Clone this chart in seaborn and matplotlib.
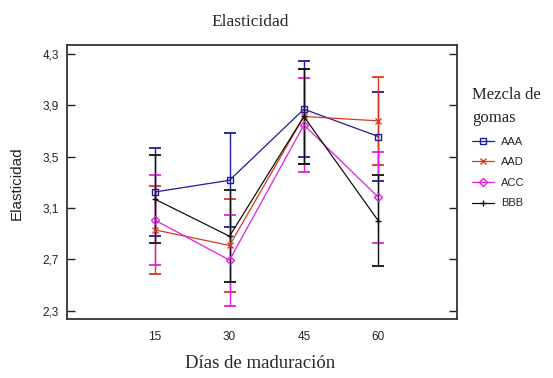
import matplotlib
matplotlib.use("Agg")
import matplotlib.pyplot as plt
import seaborn as sns
import pandas as pd

dias = [15, 30, 45, 60]
aaa = [3.225, 3.316, 3.870, 3.657]
aad = [2.929, 2.808, 3.813, 3.779]
acc = [3.005, 2.694, 3.747, 3.183]
bbb = [3.168, 2.880, 3.813, 3.000]
err_aaa = [0.345, 0.365, 0.373, 0.348]
err_aad = [0.342, 0.361, 0.373, 0.344]
err_acc = [0.350, 0.354, 0.369, 0.353]
err_bbb = [0.342, 0.357, 0.371, 0.354]
yticks = [2.3, 2.7, 3.1, 3.5, 3.9, 4.3]
ytick_labels = ["2,3", "2,7", "3,1", "3,5", "3,9", "4,3"]

series = {"AAA": (aaa, err_aaa), "AAD": (aad, err_aad),
          "ACC": (acc, err_acc), "BBB": (bbb, err_bbb)}
colors = {"AAA": "#1c1c9c", "AAD": "#d83a1e", "ACC": "#e020e0", "BBB": "#111111"}
mk = {"AAA": "s", "AAD": "x", "ACC": "D", "BBB": "+"}

rows = []
for name, (vals, errs) in series.items():
    for d, v, e in zip(dias, vals, errs):
        rows.append({"dias": d, "valor": v, "err": e, "mezcla": name})
df = pd.DataFrame(rows)

sns.set_style("white")
plt.rcParams["font.family"] = ["Liberation Sans", "DejaVu Sans"]

fig = plt.figure(figsize=(5.53, 3.78), dpi=100)
ax = fig.add_axes([67.3 / 553, 1 - 319 / 378, (456.7 - 67.3) / 553, (319 - 45) / 378])

for name, g in df.groupby("mezcla", sort=False):
    ax.errorbar(g["dias"], g["valor"], yerr=g["err"], fmt="none",
                ecolor=colors[name], elinewidth=1.0, capsize=4.5, capthick=1.3, zorder=2)

for name, g in df.groupby("mezcla", sort=False):
    sns.lineplot(data=g, x="dias", y="valor", ax=ax, color=colors[name],
                 marker=mk[name], markersize=5 if name != "ACC" else 4.5,
                 markerfacecolor="none", markeredgecolor=colors[name],
                 markeredgewidth=1.0, linewidth=0.9, label=name, zorder=3)

ax.set_xlim(-2.7, 75.8)
ax.set_ylim(2.235, 4.37)
ax.set_xticks(dias)
ax.set_xticklabels([str(d) for d in dias])
ax.set_yticks(yticks)
ax.set_yticklabels(ytick_labels)
ax.tick_params(axis="x", length=0, labelsize=8.5, pad=9, colors="#222222")
ax.tick_params(axis="y", direction="in", length=6, width=1, labelsize=8.5,
               left=True, right=True, pad=6, colors="#222222")
for s in ax.spines.values():
    s.set_color("#333333")
    s.set_linewidth(1.3)
ax.set_xlabel("")
ax.set_ylabel("")

fig.text(250 / 553, 1 - 22 / 378, "Elasticidad", family="Liberation Serif",
         fontsize=12.5, ha="center", va="center")
fig.text(260 / 553, 1 - 363 / 378, "Días de maduración", family="Liberation Serif",
         fontsize=13.5, ha="center", va="center")
fig.text(17 / 553, 1 - 183 / 378, "Elasticidad", fontsize=11, rotation=90,
         ha="center", va="center", color="#222222")

handles, labels = ax.get_legend_handles_labels()
leg = ax.legend(handles, labels, title="Mezcla de\ngomas", loc="upper left",
                bbox_to_anchor=(462 / 553, 1 - 77 / 378), bbox_transform=fig.transFigure,
                frameon=False, fontsize=8, handlelength=2.0, handletextpad=0.6,
                labelspacing=0.95, alignment="left",
                title_fontproperties={"family": "Liberation Serif", "size": 12})
leg.get_title().set_linespacing(1.6)

fig.savefig("out.png", dpi=100)
